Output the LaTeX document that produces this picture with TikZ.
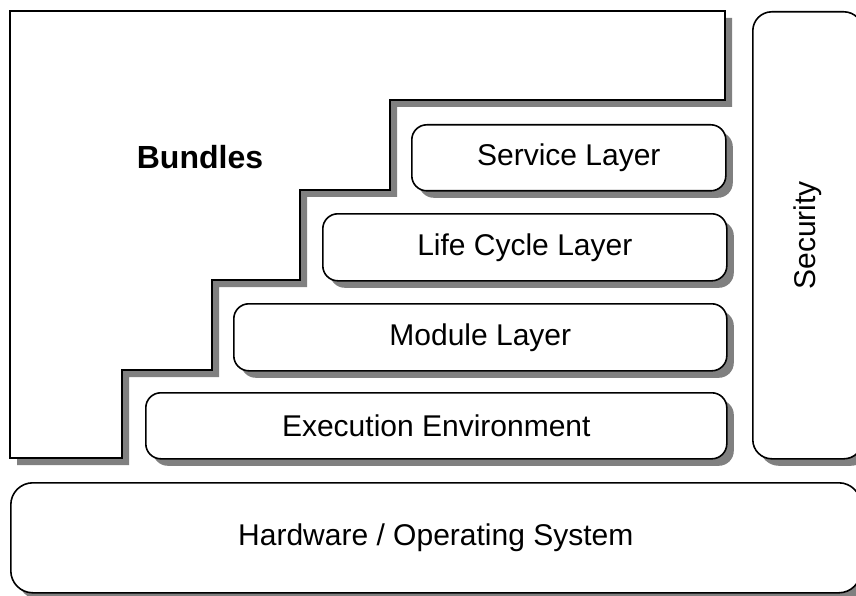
\documentclass[tikz,border=0pt]{standalone}
\usepackage{fontspec}
\setmainfont{Liberation Sans}
\usetikzlibrary{shadows}
\usetikzlibrary{positioning}
\tikzset{
  shade/.style={drop shadow={shadow xshift=7pt,shadow yshift=-7pt,
    fill=black!50,opacity=1}},
  layer/.style={draw,line width=1.6pt,fill=white,rounded corners=15pt,
    shade,inner sep=0pt,anchor=north west,
    font=\fontsize{30}{36}\selectfont},
  bundles/.style={draw,line width=1.6pt,fill=white,shade},
}

\begin{document}
\begin{tikzpicture}[x=1pt,y=-1pt]
  \useasboundingbox (0,0) rectangle (856,596);
  % The stairs of the bundles
  \draw[bundles] (10,11) -- (725,11) -- (725,100) -- (390,100)
    -- (390,190) -- (300,190) -- (300,280) -- (212,280)
    -- (212,370) -- (122,370) -- (122,458) -- (10,458) -- cycle;
  \node[font=\bfseries\fontsize{32}{38}\selectfont] (bundles) at (200,157) {Bundles};
  % Place the layers
  \node[layer,minimum width=581,minimum height=66] (exec) at (145,392)
    {Execution Environment};
  \node[layer,minimum width=493,minimum height=67] (module) at (233,303)
    {Module Layer};
  \node[layer,minimum width=404,minimum height=67] (life) at (322,213)
    {Life Cycle Layer};
  \node[layer,minimum width=314,minimum height=66] (service) at (411,124)
    {Service Layer};
  % Security and the platform
  \node[layer,rounded corners=19pt,minimum width=110,minimum height=447]
    (security) at (752,11) {\rotatebox{90}{Security}};
  \node[layer,rounded corners=22pt,minimum width=850,minimum height=110]
    (hw) at (10,482) {Hardware / Operating System};
\end{tikzpicture}
\end{document}
